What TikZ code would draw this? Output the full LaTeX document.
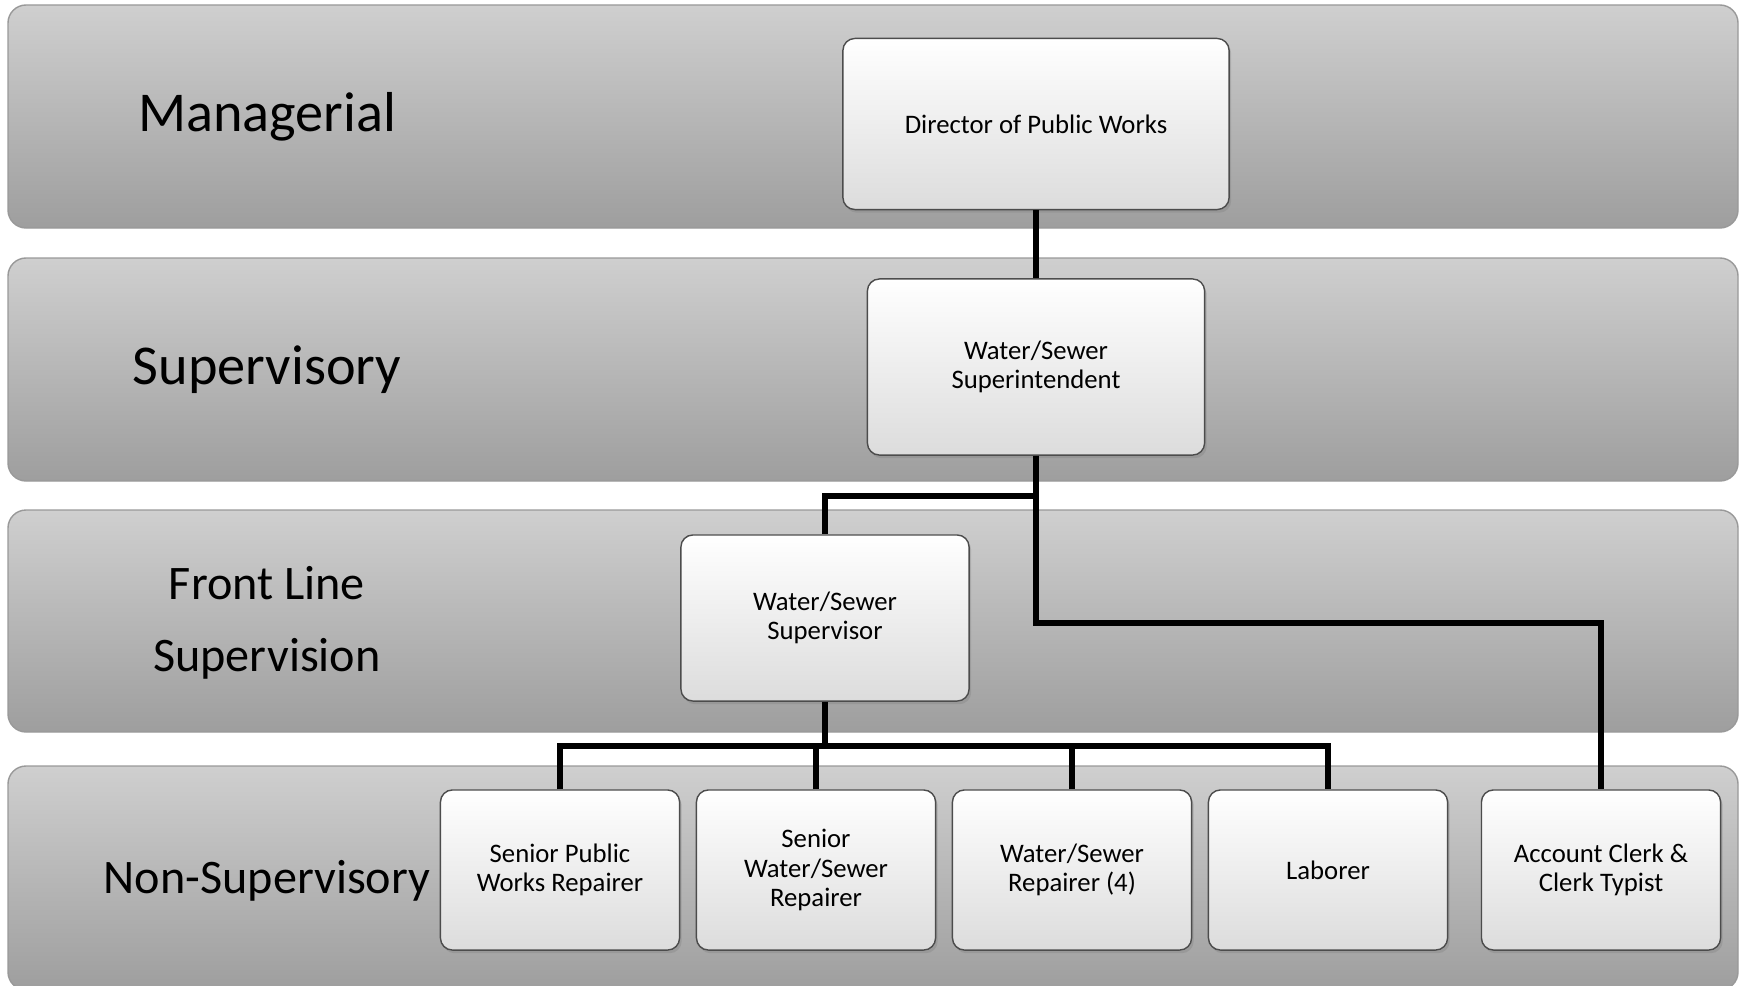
\documentclass[tikz,border=0pt]{standalone}
\usepackage{fontspec}
\setmainfont{Carlito}
\usetikzlibrary{shadows}
\definecolor{bandtop}{RGB}{207,207,207}
\definecolor{bandbot}{RGB}{158,158,158}
\definecolor{boxbot}{RGB}{220,220,220}
\tikzset{
  band/.style={rounded corners=0.18cm, top color=bandtop, bottom color=bandbot, draw=gray!80, thin},
  tier/.style={font=\fontsize{13.7}{20.5}\selectfont, align=center},
  bigtier/.style={tier, font=\fontsize{16}{20}\selectfont},
  role/.style={draw=gray!60!black, rounded corners=0.12cm, top color=white, bottom color=boxbot,
    align=center, font=\fontsize{7.6}{8.3}\selectfont, inner sep=2pt,
    drop shadow={opacity=0.35, shadow xshift=0.6pt, shadow yshift=-0.9pt}},
  small/.style={role, minimum width=2.39cm, minimum height=1.6cm},
  conn/.style={line width=1.6pt, black}
}
\begin{document}
\begin{tikzpicture}[x=0.01cm, y=-0.01cm]
  \path[use as bounding box, clip] (0,0) rectangle (1743,985);
  % bands for the four levels
  \path[band] (8,5) rectangle (1738,228);
  \path[band] (8,258) rectangle (1738,481);
  \path[band] (8,510) rectangle (1738,732);
  \path[band] (8,766) rectangle (1738,990);
  \node[bigtier] (mgr) at (267,117) {Managerial};
  \node[bigtier] (sprv) at (267,370) {Supervisory};
  \node[tier] (front) at (267,623) {Front Line\\Supervision};
  \node[tier] (nonsup) at (267,881) {Non-Supervisory};
  % boxes
  \node[role, minimum width=3.86cm, minimum height=1.71cm] (dir) at (1036,124) {Director of Public Works};
  \node[role, minimum width=3.37cm, minimum height=1.76cm] (sup) at (1036,367) {Water/Sewer\\Superintendent};
  \node[role, minimum width=2.88cm, minimum height=1.66cm] (fls) at (825,618) {Water/Sewer\\Supervisor};
  \node[small] (r1) at (560,870) {Senior Public\\Works Repairer};
  \node[small] (r2) at (816,870) {Senior\\Water/Sewer\\Repairer};
  \node[small] (r3) at (1072,870) {Water/Sewer\\Repairer (4)};
  \node[small] (lab) at (1328,870) {Laborer};
  \node[small] (clerk) at (1601,870) {Account Clerk \&\\Clerk Typist};
  % connectors
  \draw[conn] (dir.south) -- (sup.north);
  \draw[conn] (sup.south) -- ++(0,40) -| (fls.north);
  \draw[conn] (sup.south) -- ++(0,167) -| (clerk.north);
  \draw[conn] (fls.south) -- ++(0,44) coordinate (j2);
  \draw[conn] (r1.north) |- (lab.north |- j2) -- (lab.north);
  \foreach \r in {r2,r3}
    \draw[conn] (\r.north) -- (\r.north |- j2);
\end{tikzpicture}
\end{document}
